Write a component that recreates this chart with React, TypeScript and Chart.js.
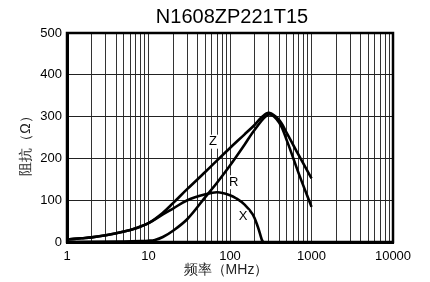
import React, { useEffect, useRef } from 'react';
import { Chart, registerables } from 'chart.js';

Chart.register(...registerables);

const TITLE = 'N1608ZP221T15';
const X_TITLE = '频率（MHz）';
const Y_TITLE = '阻抗（Ω）';

const zFreq = [1, 1.5, 2, 3, 5, 7, 10, 15, 20, 30, 50, 70, 100, 150, 200, 250, 300, 400, 500, 700, 1000];
const zVals = [6, 9, 11, 16, 25, 33, 45, 70, 93, 127, 168, 196, 225, 257, 280, 300, 309, 292, 260, 207, 152];

const rFreq = [1, 5, 8, 10, 12, 15, 20, 30, 50, 70, 100, 150, 200, 300, 400, 500, 700, 1000];
const rVals = [0, 1, 2, 3, 5, 12, 27, 55, 108, 143, 183, 232, 268, 305, 286, 242, 163, 84];

const xFreq = [1, 1.5, 2, 3, 5, 7, 10, 15, 20, 30, 50, 70, 100, 120, 150, 190, 220, 245, 255];
const xVals = [6, 9, 11, 16, 25, 33, 45, 66, 80, 100, 114, 119, 112, 104, 90, 66, 36, 6, 0];

const curveLabels = [
  { text: 'Z', f: 62, v: 240 },
  { text: 'R', f: 111, v: 143 },
  { text: 'X', f: 145, v: 60 },
];

const decades = [1, 10, 100, 1000, 10000];
const yTicks = [0, 100, 200, 300, 400, 500];

const FONT = "'Liberation Sans', Arial, Helvetica, sans-serif";

function buildXTicks(): number[] {
  const out: number[] = [];
  for (let d = 0; d < decades.length - 1; d++) {
    for (let m = 1; m < 10; m++) out.push(decades[d] * m);
  }
  out.push(decades[decades.length - 1]);
  return out;
}

const pts = (fs: number[], vs: number[]) => fs.map((f, i) => ({ x: f, y: vs[i] }));

const overlay = {
  id: 'overlay',
  afterDraw(chart: any) {
    const { ctx, chartArea, scales } = chart;
    const xs = scales.x;
    const ys = scales.y;
    ctx.save();
    ctx.strokeStyle = '#000';
    ctx.lineWidth = 2.5;
    ctx.strokeRect(chartArea.left, chartArea.top, chartArea.right - chartArea.left, chartArea.bottom - chartArea.top);
    ctx.font = `13px ${FONT}`;
    ctx.textAlign = 'center';
    ctx.textBaseline = 'middle';
    for (const l of curveLabels) {
      const px = xs.getPixelForValue(l.f);
      const py = ys.getPixelForValue(l.v);
      const w = ctx.measureText(l.text).width;
      ctx.fillStyle = '#fff';
      ctx.fillRect(px - w / 2 - 1, py - 7, w + 2, 14);
      ctx.fillStyle = '#000';
      ctx.fillText(l.text, px, py);
    }
    ctx.font = `20px ${FONT}`;
    ctx.fillStyle = '#000';
    ctx.fillText(TITLE, (chartArea.left + chartArea.right) / 2 + 2, 17);
    ctx.font = `14px ${FONT}`;
    ctx.fillStyle = '#222';
    ctx.fillText(X_TITLE, (chartArea.left + chartArea.right) / 2 - 4, 270);
    ctx.translate(26, (chartArea.top + chartArea.bottom) / 2 + 5);
    ctx.rotate(-Math.PI / 2);
    ctx.fillText(Y_TITLE, 0, 0);
    ctx.restore();
  },
};

export default function App() {
  const ref = useRef<HTMLCanvasElement | null>(null);
  useEffect(() => {
    document.body.style.margin = '0';
    const canvas = ref.current;
    if (!canvas) return;
    const xTickVals = buildXTicks();
    const mk = (label: string, data: any) => ({
      label,
      data,
      borderColor: '#000',
      backgroundColor: '#000',
      borderWidth: 2.6,
      pointRadius: 0,
      tension: 0.35,
      fill: false,
    });
    const chart = new Chart(canvas, {
      type: 'line',
      data: {
        datasets: [mk('Z', pts(zFreq, zVals)), mk('R', pts(rFreq, rVals)), mk('X', pts(xFreq, xVals))],
      },
      options: {
        responsive: false,
        animation: false,
        layout: { padding: { top: 33, right: 37, left: 0, bottom: 0 } },
        plugins: { legend: { display: false }, tooltip: { enabled: false }, title: { display: false } },
        scales: {
          x: {
            type: 'logarithmic',
            min: 1,
            max: 10000,
            afterBuildTicks: (s: any) => {
              s.ticks = xTickVals.map((v) => ({ value: v }));
            },
            afterFit: (s: any) => {
              s.height = 40;
            },
            ticks: {
              autoSkip: false,
              maxRotation: 0,
              minRotation: 0,
              padding: 7,
              color: '#000',
              font: { family: FONT, size: 13 },
              callback: (v: any) => (decades.includes(Number(v)) ? String(v) : ''),
            },
            grid: { color: '#333', lineWidth: 1, drawTicks: false },
            border: { display: true, color: '#000', width: 3 },
          },
          y: {
            min: 0,
            max: 500,
            afterBuildTicks: (s: any) => {
              s.ticks = yTicks.map((v) => ({ value: v }));
            },
            afterFit: (s: any) => {
              s.width = 67;
            },
            ticks: {
              padding: 5,
              color: '#000',
              font: { family: FONT, size: 13 },
            },
            grid: { color: '#222', lineWidth: 1, drawTicks: false },
            border: { display: true, color: '#000', width: 3 },
          },
        },
      },
      plugins: [overlay],
    });
    return () => chart.destroy();
  }, []);
  return (
    <canvas
      ref={ref}
      width={430}
      height={282}
      style={{ position: 'absolute', left: 0, top: 0, width: 430, height: 282, background: '#fff' }}
    />
  );
}
